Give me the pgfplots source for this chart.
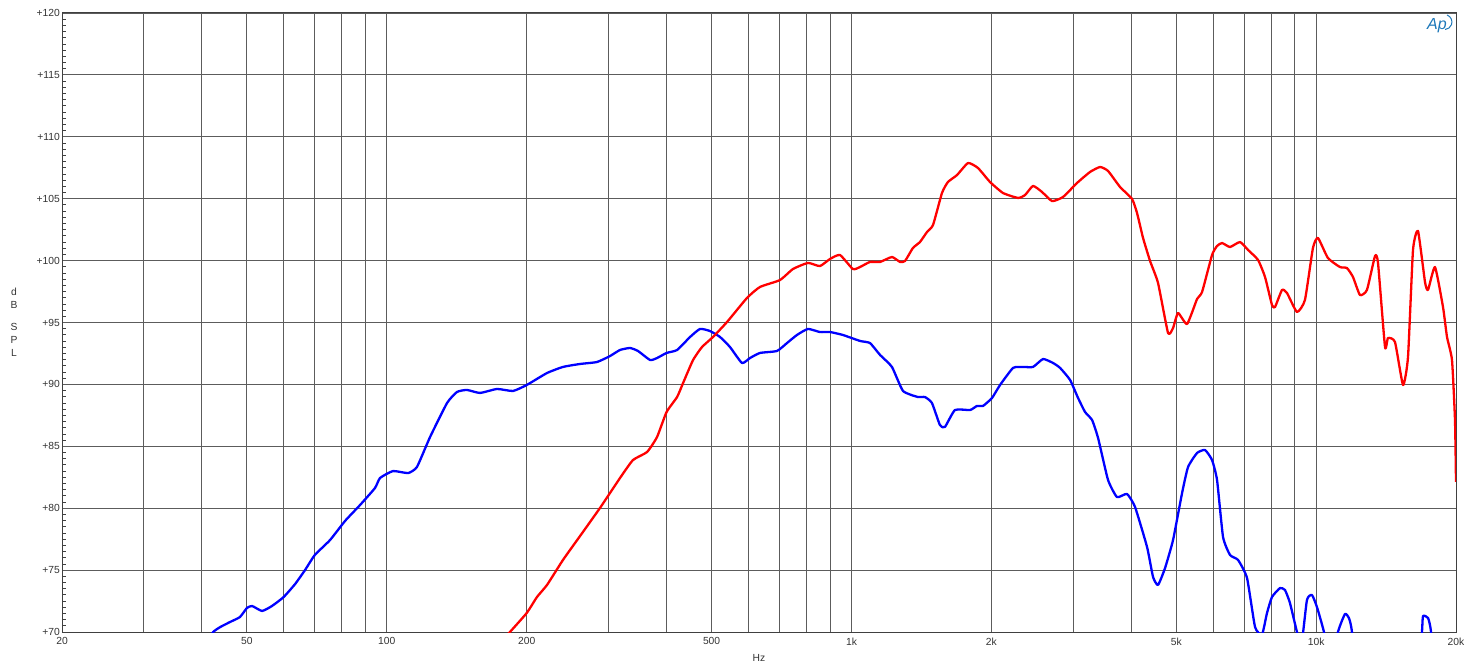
\documentclass[border=0pt]{standalone}
\usepackage{fontspec}
\setmainfont{Liberation Sans}
\usepackage{pgfplots}
\pgfplotsset{compat=1.18}
\usepackage{pgfplotstable}
\definecolor{gridc}{gray}{0.36}
\definecolor{framec}{gray}{0.25}
\definecolor{txtc}{gray}{0.2}
\definecolor{apblue}{RGB}{30,120,185}

\pgfplotstableread{
f db
41.0 69.2
42.3 70.0
43.8 70.40
46.0 70.81
48.3 71.21
50.0 71.94
51.3 72.10
53.9 71.70
56.6 72.10
60.0 72.83
63.5 73.88
66.7 75.01
70.0 76.22
75.5 77.43
81.3 78.97
87.6 80.26
94.3 81.63
96.7 82.44
103.1 83.00
111.1 82.84
116.1 83.33
123.9 85.75
134.8 88.50
141.6 89.39
148.8 89.55
158.7 89.31
172.7 89.63
186.9 89.47
200 89.95
221.2 90.92
239.4 91.41
260.5 91.65
283.4 91.81
302.2 92.29
317.6 92.78
333.7 92.94
347.2 92.70
368.6 91.97
381.6 92.13
400 92.54
421.4 92.78
449.4 93.83
472.1 94.48
496 94.31
521.3 93.83
547.7 93.02
581.3 91.73
604.8 92.13
635.5 92.54
691.4 92.70
726.5 93.34
763.2 93.99
806 94.48
855.3 94.23
899 94.23
958.8 93.99
1043 93.51
1096 93.34
1152 92.38
1222 91.41
1291 89.47
1390 88.98
1439 88.98
1490 88.50
1550 86.72
1589 86.56
1670 87.93
1800 87.93
1863 88.26
1919 88.26
2006 88.90
2088 89.95
2227 91.33
2340 91.41
2459 91.41
2584 92.05
2715 91.73
2812 91.33
2954 90.36
3074 88.90
3182 87.77
3295 87.12
3394 85.67
3566 82.28
3728 80.90
3917 81.15
4076 80.10
4326 76.87
4457 74.44
4568 73.80
4730 75.17
4921 77.43
5146 81.23
5301 83.33
5543 84.46
5767 84.70
5970 83.89
6120 82.28
6305 77.67
6527 76.22
6791 75.82
7101 74.36
7389 70.40
7650 69.8
7839 71.53
8036 72.83
8361 73.55
8570 73.39
8784 72.34
9094 70.0
9300 69.0
9554 72.58
9794 72.99
10040 72.02
10394 70.0
10750 67.0
11141 70.0
11534 71.45
11765 71.13
11941 70.0
12300 64
16500 64
16898 70.0
16984 71.29
17410 71.13
17670 70.0
18200 64
}\bluedata

\pgfplotstableread{
f db
180 69.6
184.1 70.0
200 71.53
210.5 72.83
221.2 73.80
239.4 75.82
260.5 77.75
287.6 80.02
317.6 82.44
338.7 83.89
363.2 84.54
381.6 85.75
400 87.77
421.4 88.98
434.1 90.11
456.1 91.97
476.8 93.02
503.5 93.83
539.7 95.04
595.8 96.98
635.5 97.87
701.7 98.43
748.4 99.32
806 99.81
855.3 99.56
899 100.13
944.6 100.45
1007 99.32
1043 99.48
1096 99.89
1152 99.89
1222 100.29
1272 99.89
1304 99.97
1356 101.02
1404 101.50
1454 102.31
1498 102.88
1566 105.46
1613 106.35
1687 106.91
1782 107.88
1872 107.48
1987 106.35
2119 105.46
2283 105.06
2364 105.30
2459 106.03
2571 105.54
2702 104.81
2853 105.14
3058 106.27
3262 107.16
3428 107.56
3566 107.24
3784 105.95
4016 104.98
4117 103.84
4241 101.83
4391 99.97
4568 98.19
4801 94.15
4921 94.56
5045 95.77
5275 94.88
5543 96.90
5682 97.46
5970 100.45
6120 101.18
6274 101.42
6527 101.10
6859 101.50
7137 100.86
7499 100.05
7762 98.68
8036 96.41
8156 96.25
8444 97.63
8656 97.38
9094 95.85
9460 96.82
9843 101.02
10090 101.83
10602 100.21
11252 99.48
11649 99.40
12001 98.68
12424 97.22
12862 97.63
13388 100.37
13588 99.81
14068 93.02
14278 93.75
14782 93.42
15382 89.95
15766 92.21
16162 100.86
16568 102.39
17152 98.27
17410 97.63
18022 99.48
18752 96.25
19128 93.83
19608 91.97
19901 87.12
20000 82.12
}\reddata

\begin{document}
\begin{tikzpicture}[x=1pt,y=1pt]
\path[use as bounding box] (0,0) rectangle (1469,667);
\begin{axis}[
  at={(62pt,35pt)}, anchor=south west,
  scale only axis, width=1394pt, height=619pt,
  xmode=log, xmin=20, xmax=20000, ymin=70, ymax=120,
  log basis x=10,
  xtick={20,30,40,50,60,70,80,90,100,200,300,400,500,600,700,800,900,1000,2000,3000,4000,5000,6000,7000,8000,9000,10000,20000},
  xticklabels={20,,,50,,,,,100,200,,,500,,,,,1k,2k,,,5k,,,,,10k,20k},
  minor xtick={},
  ytick={70,75,...,120},
  yticklabels={+70,+75,+80,+85,+90,+95,+100,+105,+110,+115,+120},
  minor y tick num=9,
  grid=major,
  major grid style={draw=gridc, line width=0.95pt},
  axis line style={draw=framec, line width=1pt},
  tick style={draw=framec, line width=0.8pt},
  major tick style={draw=none},
  minor tick length=4pt,
  tick align=inside,
  xtick pos=bottom, ytick pos=left,
  tick label style={font=\fontsize{10.3}{12}\selectfont, text=txtc},
  xticklabel style={anchor=north, inner sep=0pt, yshift=-5.5pt},
  yticklabel style={anchor=east, inner sep=0pt, xshift=-2pt},
  xlabel={Hz},
  ylabel={d\\B\\[9pt]S\\P\\L},
  every axis x label/.style={at={(axis description cs:0.5,-0.042)}, anchor=center, font=\fontsize{10.3}{12}\selectfont, text=txtc},
  every axis y label/.style={at={(axis description cs:-0.0344,0.5)}, anchor=center, align=center, font=\fontsize{10.3}{13}\selectfont, text=txtc},
  clip=true,
]
\addplot[color={rgb,1:red,0;green,0;blue,1}, line width=2.3pt, line join=round, smooth, tension=0.3] table[x=f,y=db] {\bluedata};
\addplot[color={rgb,1:red,1;green,0;blue,0}, line width=2.3pt, line join=round, smooth, tension=0.3] table[x=f,y=db] {\reddata};
\end{axis}
\node[text=apblue, font=\fontsize{16}{16}\selectfont\itshape, inner sep=0pt] at (1437,641) {Ap};
\draw[apblue, line width=1pt] (1447,652) arc[start angle=70, end angle=-85, radius=7.5pt];
\end{tikzpicture}
\end{document}
